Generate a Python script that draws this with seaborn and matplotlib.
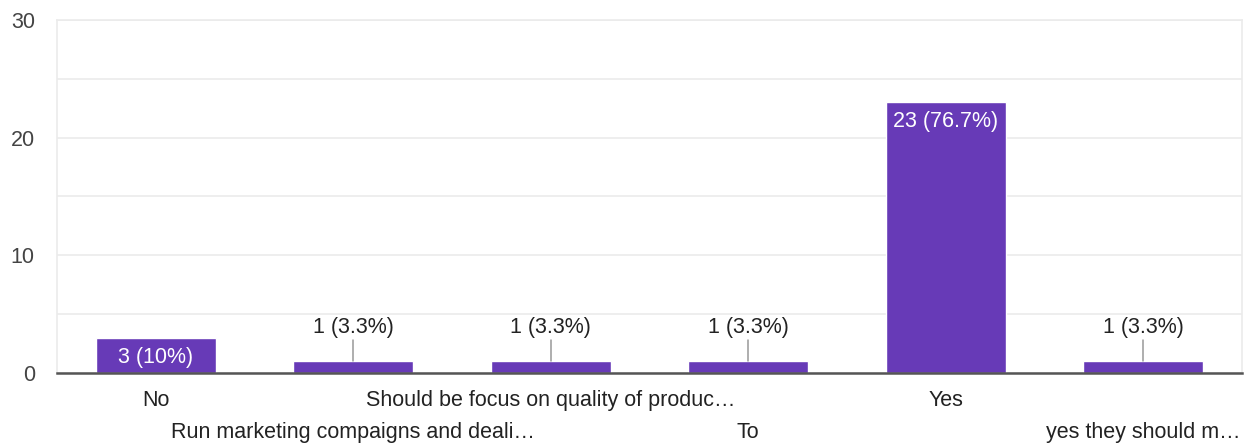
import matplotlib
matplotlib.use("Agg")
import matplotlib.pyplot as plt
import seaborn as sns
import pandas as pd

categories = [
    "No",
    "Run marketing compaigns and deali\u2026",
    "Should be focus on quality of produc\u2026",
    "To",
    "Yes",
    "yes they should m\u2026",
]
counts = [3, 1, 1, 1, 23, 1]
percent_labels = ["10%", "3.3%", "3.3%", "3.3%", "76.7%", "3.3%"]

BAR_COLOR = "#673ab7"
GRID_COLOR = "#ebebeb"
TEXT_COLOR = "#444444"

sns.set_theme(style="white")
plt.rcParams["font.family"] = ["Liberation Sans", "DejaVu Sans"]

df = pd.DataFrame({"answer": categories, "count": counts})

fig = plt.figure(figsize=(12.53, 4.48), dpi=100)
ax = fig.add_axes([57 / 1253, 1 - 373 / 448, (1242 - 57) / 1253, (373 - 20) / 448])

sns.barplot(data=df, x="answer", y="count", color=BAR_COLOR, saturation=1,
            width=0.61, ax=ax, zorder=3)

ax.set_ylim(0, 30)
ax.set_xlim(-0.5, len(categories) - 0.5)
ax.set_yticks([0, 10, 20, 30])
ax.set_yticks([5, 15, 25], minor=True)
ax.grid(axis="y", which="both", color=GRID_COLOR, linewidth=1.2, zorder=0)
ax.grid(axis="x", visible=False)
ax.set_xlabel("")
ax.set_ylabel("")

for side in ("left", "top", "right"):
    ax.spines[side].set_color(GRID_COLOR)
    ax.spines[side].set_linewidth(1.2)
ax.spines["bottom"].set_color("#555555")
ax.spines["bottom"].set_linewidth(1.8)
ax.spines["bottom"].set_zorder(4)

ax.tick_params(axis="y", which="both", length=0, pad=16, labelsize=15.5,
               labelcolor=TEXT_COLOR)
ax.tick_params(axis="x", length=0, labelsize=15.5, labelcolor="#222222")

# staggered category labels: alternate rows
for i, tick in enumerate(ax.xaxis.get_major_ticks()):
    tick.set_pad(12.5 if i % 2 == 0 else 35.5)

# value labels
for i, (c, p) in enumerate(zip(counts, percent_labels)):
    label = f"{c} ({p})"
    if c >= 3:
        ax.annotate(label, xy=(i, c), xytext=(0, -14), textcoords="offset points",
                    ha="center", va="center", color="white", fontsize=15.5,
                    zorder=5)
    else:
        ax.plot([i, i], [c, 2.8], color="#999999", linewidth=1.1, zorder=4)
        ax.text(i, 3.9, label, ha="center", va="center", color="#222222",
                fontsize=15.5, zorder=5)

fig.savefig("out.png", dpi=100, facecolor="white")
